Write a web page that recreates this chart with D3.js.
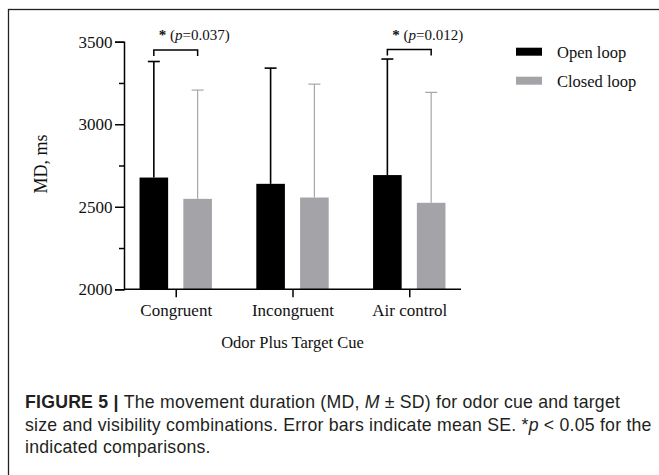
<!DOCTYPE html>
<html>
<head>
<meta charset="utf-8">
<script src="https://cdn.jsdelivr.net/npm/d3@7"></script>
<style>
  html, body { margin: 0; padding: 0; background: #fff; }
  svg { display: block; }
</style>
</head>
<body>
<svg id="chart" width="659" height="475"></svg>
<script>
// Movement duration by odor cue condition, open vs closed loop
const categories = ["Congruent", "Incongruent", "Air control"];
const series = ["Open loop", "Closed loop"];
const openMean = [2677, 2639, 2692];
const openSD = [703, 701, 703];
const closedMean = [2548, 2556, 2524];
const closedSD = [659, 687, 669];
const yTicks = [2000, 2500, 3000, 3500];
const yMinorTicks = [2250, 2750, 3250];
// significant comparisons: category, bracket level, label
const sigCategory = ["Congruent", "Air control"];
const sigLevel = [3450, 3452];
const sigP = ["0.037", "0.012"];

const colors = { "Open loop": "#000000", "Closed loop": "#a4a4a8" };
const errColors = { "Open loop": "#000000", "Closed loop": "#a6a6a6" };
const serif = "'Liberation Serif', 'Times New Roman', serif";
const sans = "'Liberation Sans', Arial, Helvetica, sans-serif";

const svg = d3.select("#chart");

// outer frame (runs off the right and bottom edges)
svg.append("rect")
  .attr("x", 8.5).attr("y", 9.5)
  .attr("width", 720).attr("height", 520)
  .attr("fill", "none").attr("stroke", "#222").attr("stroke-width", 1.3);

const xLeft = 124, xRight = 461, yTop = 41.7, yBottom = 289.3;

const y = d3.scaleLinear().domain([2000, 3500]).range([yBottom, yTop]);
const x0 = d3.scalePoint().domain(categories).range([xLeft, xRight]).padding(0.443);
const x1 = d3.scaleBand().domain(series).range([-36.2, 36.2]).paddingInner(0.347);

const rows = categories.map((c, i) => ({
  cat: c,
  values: [
    { s: "Open loop", mean: openMean[i], sd: openSD[i] },
    { s: "Closed loop", mean: closedMean[i], sd: closedSD[i] }
  ]
}));

const g = svg.append("g");

// error bars (upper half) drawn first, bars cover the lower part
const eb = g.selectAll("g.err").data(rows).join("g").attr("class", "err")
  .selectAll("g").data(d => d.values.map(v => ({ ...v, cat: d.cat }))).join("g");
const cx = d => x0(d.cat) + x1(d.s) + x1.bandwidth() / 2;
eb.append("line")
  .attr("x1", cx).attr("x2", cx)
  .attr("y1", d => y(d.mean)).attr("y2", d => y(d.mean + d.sd))
  .attr("stroke", d => errColors[d.s])
  .attr("stroke-width", d => d.s === "Open loop" ? 1.6 : 1.2);
eb.append("line")
  .attr("x1", d => cx(d) - 6).attr("x2", d => cx(d) + 6)
  .attr("y1", d => y(d.mean + d.sd)).attr("y2", d => y(d.mean + d.sd))
  .attr("stroke", d => errColors[d.s])
  .attr("stroke-width", d => d.s === "Open loop" ? 1.6 : 1.2);

// bars
g.selectAll("g.bars").data(rows).join("g").attr("class", "bars")
  .selectAll("rect").data(d => d.values.map(v => ({ ...v, cat: d.cat }))).join("rect")
  .attr("x", d => x0(d.cat) + x1(d.s))
  .attr("width", x1.bandwidth())
  .attr("y", d => y(d.mean))
  .attr("height", d => y(2000) - y(d.mean))
  .attr("fill", d => colors[d.s]);

// y axis with major and minor ticks
g.append("g").attr("transform", `translate(${xLeft},0)`)
  .call(d3.axisLeft(y).tickValues(yTicks).tickSize(9).tickPadding(2.5).tickFormat(d3.format("d")));
g.append("g").attr("transform", `translate(${xLeft},0)`)
  .call(d3.axisLeft(y).tickValues(yMinorTicks).tickSize(5).tickFormat(""))
  .call(a => a.select(".domain").remove());

// x axis
const xAxis = g.append("g").attr("transform", `translate(0,${yBottom})`)
  .call(d3.axisBottom(x0).tickSize(8).tickPadding(6.5).tickSizeOuter(0));
xAxis.select(".domain").attr("d", `M${xLeft},0H${xRight}`);

svg.selectAll(".tick line, .domain").attr("stroke", "#000").attr("stroke-width", 1.5);
svg.selectAll(".tick text")
  .attr("font-family", serif).attr("font-size", 17).attr("fill", "#111");

// axis titles
svg.append("text")
  .attr("x", (xLeft + xRight) / 2).attr("y", 348)
  .attr("text-anchor", "middle")
  .attr("font-family", serif).attr("font-size", 16.5).attr("fill", "#111")
  .text("Odor Plus Target Cue");
svg.append("text")
  .attr("transform", "translate(47,164) rotate(-90)")
  .attr("text-anchor", "middle")
  .attr("font-family", serif).attr("font-size", 18).attr("fill", "#111")
  .text("MD, ms");

// significance brackets
sigCategory.forEach((c, i) => {
  const xa = x0(c) + x1("Open loop") + x1.bandwidth() / 2;
  const xb = x0(c) + x1("Closed loop") + x1.bandwidth() / 2;
  const yy = y(sigLevel[i]);
  g.append("path")
    .attr("d", `M${xa},${yy + 6}V${yy}H${xb}V${yy + 6}`)
    .attr("fill", "none").attr("stroke", "#000").attr("stroke-width", 1.5);
  const t = g.append("text")
    .attr("x", xa + 5).attr("y", yy - 10)
    .attr("font-family", serif).attr("font-size", 15).attr("fill", "#111");
  t.append("tspan").attr("font-weight", "bold").text("*");
  t.append("tspan").text(" (");
  t.append("tspan").attr("font-style", "italic").text("p");
  t.append("tspan").text("=" + sigP[i] + ")");
});

// legend
const legend = svg.append("g").attr("transform", "translate(516,47.7)");
series.forEach((s, i) => {
  legend.append("rect")
    .attr("x", 0).attr("y", i * 29).attr("width", 26).attr("height", 8)
    .attr("fill", colors[s]);
  legend.append("text")
    .attr("x", 41).attr("y", i * 29 + 10)
    .attr("font-family", serif).attr("font-size", 16.5).attr("fill", "#111")
    .text(s);
});

// caption
const cap = svg.append("text")
  .attr("font-family", sans).attr("font-size", 17.7).attr("letter-spacing", 0.22)
  .attr("fill", "#231f20");
const l1 = cap.append("tspan").attr("x", 25).attr("y", 408);
l1.append("tspan").attr("font-weight", "bold").text("FIGURE 5 | ");
l1.append("tspan").text("The movement duration (MD, ");
l1.append("tspan").attr("font-style", "italic").text("M");
l1.append("tspan").text(" \u00B1 SD) for odor cue and target");
const l2 = cap.append("tspan").attr("x", 25).attr("y", 430.5);
l2.append("tspan").text("size and visibility combinations. Error bars indicate mean SE. *");
l2.append("tspan").attr("font-style", "italic").text("p");
l2.append("tspan").text(" < 0.05 for the");
cap.append("tspan").attr("x", 25).attr("y", 453).text("indicated comparisons.");
</script>
</body>
</html>
